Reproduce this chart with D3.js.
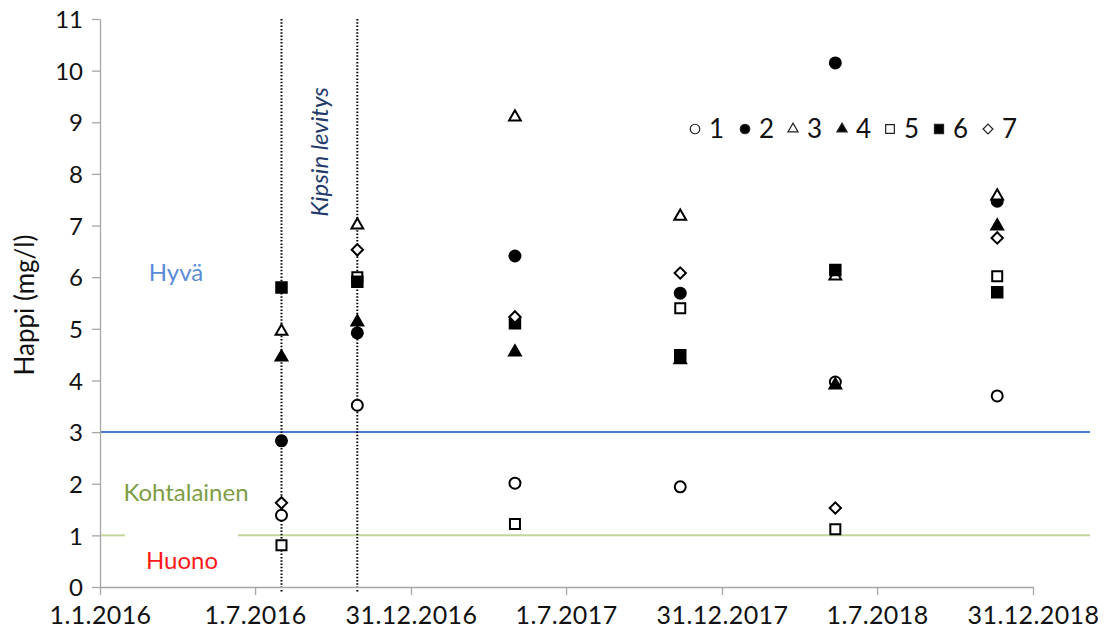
<!DOCTYPE html>
<html>
<head>
<meta charset="utf-8">
<script src="https://cdn.jsdelivr.net/npm/d3@7"></script>
<style>
  html, body { margin: 0; padding: 0; background: #fff; }
  svg { display: block; }
  text { font-family: Lato, "Open Sans", sans-serif; }
</style>
</head>
<body>
<svg id="chart" width="1108" height="637"></svg>
<script>
// ---- data ----
const sampleDates = ["2016-08-01", "2016-10-29", "2017-05-02", "2017-11-12", "2018-05-13", "2018-11-19"];
const series1 = [1.39, 3.52, 2.01, 1.94, 3.97, 3.70];
const series2 = [2.83, 4.92, 6.41, 5.69, 10.15, 7.47];
const series3 = [4.95, 7.01, 9.10, 7.18, 6.02, 7.57];
const series4 = [4.45, 5.13, 4.55, 4.40, 3.91, 6.99];
const series5 = [0.81, 6.00, 1.22, 5.40, 1.12, 6.02];
const series6 = [5.80, 5.91, 5.11, 4.49, 6.14, 5.71];
const series7 = [1.63, 6.53, 5.23, 6.08, 1.53, 6.76];
const seriesNames = ["1", "2", "3", "4", "5", "6", "7"];
const xTickDates = ["2016-01-01", "2016-07-01", "2016-12-31", "2017-07-01", "2017-12-31", "2018-07-01", "2018-12-31"];
const xTickLabels = ["1.1.2016", "1.7.2016", "31.12.2016", "1.7.2017", "31.12.2017", "1.7.2018", "31.12.2018"];
const yTicks = [0, 1, 2, 3, 4, 5, 6, 7, 8, 9, 10, 11];
const kipsinDates = ["2016-08-01", "2016-10-29"];
const thresholds = [3, 1];

// ---- setup ----
const svg = d3.select("#chart");
const mLeft = 100, mRight = 1033, mTop = 19, mBottom = 587;
const parse = d3.utcParse("%Y-%m-%d");
const x = d3.scaleUtc().domain([parse("2016-01-01"), parse("2018-12-31")]).range([mLeft, mRight]);
const y = d3.scaleLinear().domain([0, 11]).range([mBottom, mTop]);
const axisColor = "#a6a6a6";

// threshold lines
svg.append("line").attr("x1", mLeft).attr("x2", 1090)
  .attr("y1", y(thresholds[0])).attr("y2", y(thresholds[0]))
  .attr("stroke", "#4a7bd0").attr("stroke-width", 2);
svg.append("line").attr("x1", mLeft).attr("x2", 125)
  .attr("y1", y(thresholds[1])).attr("y2", y(thresholds[1]))
  .attr("stroke", "#c2d69b").attr("stroke-width", 2);
svg.append("line").attr("x1", 238).attr("x2", 1090)
  .attr("y1", y(thresholds[1])).attr("y2", y(thresholds[1]))
  .attr("stroke", "#c2d69b").attr("stroke-width", 2);

// dotted vertical lines
kipsinDates.forEach(d => {
  svg.append("line").attr("x1", x(parse(d))).attr("x2", x(parse(d)))
    .attr("y1", mTop).attr("y2", mBottom + 6)
    .attr("stroke", "#000").attr("stroke-width", 2)
    .attr("stroke-dasharray", "1.5,1.8");
});

// axes
const yAxis = svg.append("g").attr("transform", `translate(${mLeft},0)`)
  .call(d3.axisLeft(y).tickValues(yTicks).tickSize(8).tickSizeOuter(0).tickPadding(9));
const xAxis = svg.append("g").attr("transform", `translate(0,${mBottom})`)
  .call(d3.axisBottom(x).tickValues(xTickDates.map(parse)).tickSize(8).tickSizeOuter(0).tickPadding(11)
    .tickFormat((d, i) => xTickLabels[i]));
[yAxis, xAxis].forEach(g => {
  g.select(".domain").attr("stroke", axisColor).attr("stroke-width", 1.3);
  g.selectAll(".tick line").attr("stroke", axisColor).attr("stroke-width", 1.3);
  g.selectAll(".tick text").attr("fill", "#111").style("font-family", "Lato, sans-serif");
});
xAxis.selectAll(".tick text").attr("dy", "0.7em").style("font-size", "25px").style("letter-spacing", "0.4px");
yAxis.selectAll(".tick text").attr("dy", "0.36em").style("font-size", "24px");

// y-axis title
svg.append("text").attr("transform", `translate(34,305) rotate(-90)`)
  .attr("text-anchor", "middle").style("font-size", "26px").attr("fill", "#111")
  .text("Happi (mg/l)");

// zone labels
svg.append("text").attr("x", 176).attr("y", 281).attr("text-anchor", "middle")
  .style("font-size", "24px").attr("fill", "#5b8bd8").text("Hyvä");
svg.append("text").attr("x", 186).attr("y", 501).attr("text-anchor", "middle")
  .style("font-size", "24px").attr("fill", "#7f9d45").text("Kohtalainen");
svg.append("text").attr("x", 182).attr("y", 569).attr("text-anchor", "middle")
  .style("font-size", "24px").attr("fill", "#ff1a1a").text("Huono");
svg.append("text").attr("transform", `translate(328,152) rotate(-90)`)
  .attr("text-anchor", "middle").style("font-size", "24px").style("font-style", "italic")
  .attr("fill", "#1f3a6b").text("Kipsin levitys");

// markers
const diamond = {
  draw(ctx, size) {
    const r = Math.sqrt(size / 2);
    ctx.moveTo(0, -r); ctx.lineTo(r, 0); ctx.lineTo(0, r); ctx.lineTo(-r, 0); ctx.closePath();
  }
};
const styles = [
  { type: d3.symbolCircle, size: 95, fill: "#fff" },
  { type: d3.symbolCircle, size: 95, fill: "#000" },
  { type: d3.symbolTriangle, size: 60, fill: "#fff" },
  { type: d3.symbolTriangle, size: 60, fill: "#000" },
  { type: d3.symbolSquare, size: 100, fill: "#fff" },
  { type: d3.symbolSquare, size: 110, fill: "#000" },
  { type: diamond, size: 64, fill: "#fff" }
];
const allSeries = [series1, series2, series3, series4, series5, series6, series7];
allSeries.forEach((vals, si) => {
  const st = styles[si];
  svg.append("g").selectAll("path").data(vals).join("path")
    .attr("transform", (v, i) => `translate(${x(parse(sampleDates[i]))},${y(v)})`)
    .attr("d", d3.symbol().type(st.type).size(st.size))
    .attr("fill", st.fill).attr("stroke", "#000").attr("stroke-width", 2);
});

// legend
const legendX = [695, 745, 793, 842, 890, 939, 988];
const legendY = 129;
seriesNames.forEach((n, i) => {
  const st = styles[i];
  svg.append("path").attr("transform", `translate(${legendX[i]},${legendY})`)
    .attr("d", d3.symbol().type(st.type).size(st.size * 0.75))
    .attr("fill", st.fill).attr("stroke", "#222").attr("stroke-width", 1.2);
  svg.append("text").attr("x", legendX[i] + 14).attr("y", legendY + 9)
    .style("font-size", "26px").attr("fill", "#111").text(n);
});
</script>
</body>
</html>
